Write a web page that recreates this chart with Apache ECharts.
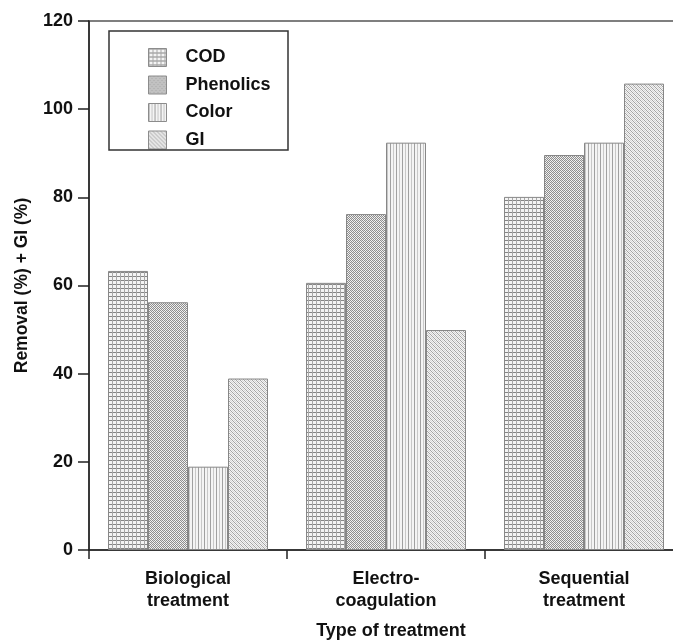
<!DOCTYPE html>
<html>
<head>
<meta charset="utf-8">
<script src="https://cdn.jsdelivr.net/npm/echarts@6/dist/echarts.min.js"></script>
<style>
html, body { margin: 0; padding: 0; background: #fff; }
#chart { width: 673px; height: 641px; }
</style>
</head>
<body>
<div id="chart"></div>
<script>
var categories = ['Biological\ntreatment', 'Electro-\ncoagulation', 'Sequential\ntreatment'];
var seriesNames = ['COD', 'Phenolics', 'Color', 'GI'];
var codValues = [63.3, 60.6, 80.1];
var phenolicsValues = [56.2, 76.2, 89.6];
var colorValues = [18.9, 92.4, 92.4];
var giValues = [38.9, 49.9, 105.8];
var yTicks = [0, 20, 40, 60, 80, 100, 120];

// small canvas tiles used as hatch fills
function makeTile(w, h, draw) {
    var c = document.createElement('canvas');
    c.width = w; c.height = h;
    var ctx = c.getContext('2d');
    ctx.fillStyle = '#f4f4f4';
    ctx.fillRect(0, 0, w, h);
    draw(ctx);
    return { image: c, repeat: 'repeat' };
}
var gridFill = makeTile(4, 4, function (ctx) {
    ctx.fillStyle = '#858585';
    ctx.fillRect(0, 0, 4, 1);
    ctx.fillStyle = '#a8a8a8';
    ctx.fillRect(0, 0, 1, 4);
});
var checkFill = makeTile(4, 4, function (ctx) {
    ctx.fillStyle = '#8e8e8e';
    for (var y = 0; y < 4; y++) {
        for (var x = 0; x < 4; x++) {
            if ((x + y) % 2 === 0) ctx.fillRect(x, y, 1, 1);
        }
    }
    ctx.fillStyle = '#dcdcdc';
    ctx.fillRect(1, 0, 1, 1);
    ctx.fillRect(3, 2, 1, 1);
});
var stripeFill = makeTile(6, 2, function (ctx) {
    ctx.fillStyle = '#a0a0a0';
    ctx.fillRect(0, 0, 1, 2);
    ctx.fillStyle = '#c8c8c8';
    ctx.fillRect(3, 0, 1, 2);
});
var diagFill = makeTile(4, 4, function (ctx) {
    ctx.fillStyle = '#a4a4a4';
    for (var i = 0; i < 4; i++) {
        ctx.fillRect(i, i, 1, 1);
    }
    ctx.fillStyle = '#d4d4d4';
    for (var j = 0; j < 4; j++) {
        ctx.fillRect((j + 2) % 4, j, 1, 1);
    }
});
var fills = [gridFill, checkFill, stripeFill, diagFill];
var allValues = [codValues, phenolicsValues, colorValues, giValues];

var font = 'Liberation Sans, Arial, sans-serif';
var chart = echarts.init(document.getElementById('chart'), null, { renderer: 'canvas' });

var series = [];
for (var k = 0; k < seriesNames.length; k++) {
    series.push({
        name: seriesNames[k],
        type: 'bar',
        data: allValues[k],
        barWidth: 40,
        barGap: '0%',
        itemStyle: {
            color: fills[k],
            borderColor: '#878787',
            borderWidth: 1
        },
        emphasis: { disabled: true }
    });
}

var option = {
    animation: false,
    backgroundColor: '#fff',
    grid: {
        left: 89, top: 21, width: 594, height: 529,
        outerBoundsMode: 'none',
        show: true, borderColor: '#555', borderWidth: 1.5,
        containLabel: false
    },
    legend: {
        orient: 'vertical',
        left: 143, top: 43,
        icon: 'rect',
        itemWidth: 18, itemHeight: 18, itemGap: 8.5,
        data: seriesNames,
        textStyle: { fontFamily: font, fontWeight: 'bold', fontSize: 18, color: '#111', padding: [0, 0, 0, 14] },
        itemStyle: { borderColor: '#8c8c8c', borderWidth: 1 }
    },
    graphic: [{
        type: 'rect',
        shape: { x: 109, y: 31, width: 179, height: 119 },
        style: { fill: 'none', stroke: '#333', lineWidth: 1.5 },
        z: 10
    }],
    xAxis: {
        type: 'category',
        data: categories,
        name: 'Type of treatment',
        nameLocation: 'middle',
        nameGap: 72,
        nameTextStyle: { fontFamily: font, fontWeight: 'bold', fontSize: 18, color: '#111', padding: [0, 0, 0, 10] },
        axisLine: { lineStyle: { color: '#222', width: 1.5 } },
        axisTick: { show: true, length: 9, inside: false, alignWithLabel: false, lineStyle: { color: '#222', width: 1.5 } },
        axisLabel: { fontFamily: font, fontWeight: 'bold', fontSize: 18, color: '#111', margin: 18, lineHeight: 22 },
        splitLine: { show: false }
    },
    yAxis: {
        type: 'value',
        min: yTicks[0], max: yTicks[yTicks.length - 1], interval: 20,
        name: 'Removal (%) + GI (%)',
        nameLocation: 'middle',
        nameGap: 58,
        nameTextStyle: { fontFamily: font, fontWeight: 'bold', fontSize: 17.5, color: '#111' },
        axisLine: { show: true, lineStyle: { color: '#222', width: 1.5 } },
        axisTick: { show: true, length: 11, lineStyle: { color: '#222', width: 1.5 } },
        axisLabel: { fontFamily: font, fontWeight: 'bold', fontSize: 18, color: '#111', margin: 16 },
        splitLine: { show: false }
    },
    series: series
};
chart.setOption(option);
</script>
</body>
</html>
